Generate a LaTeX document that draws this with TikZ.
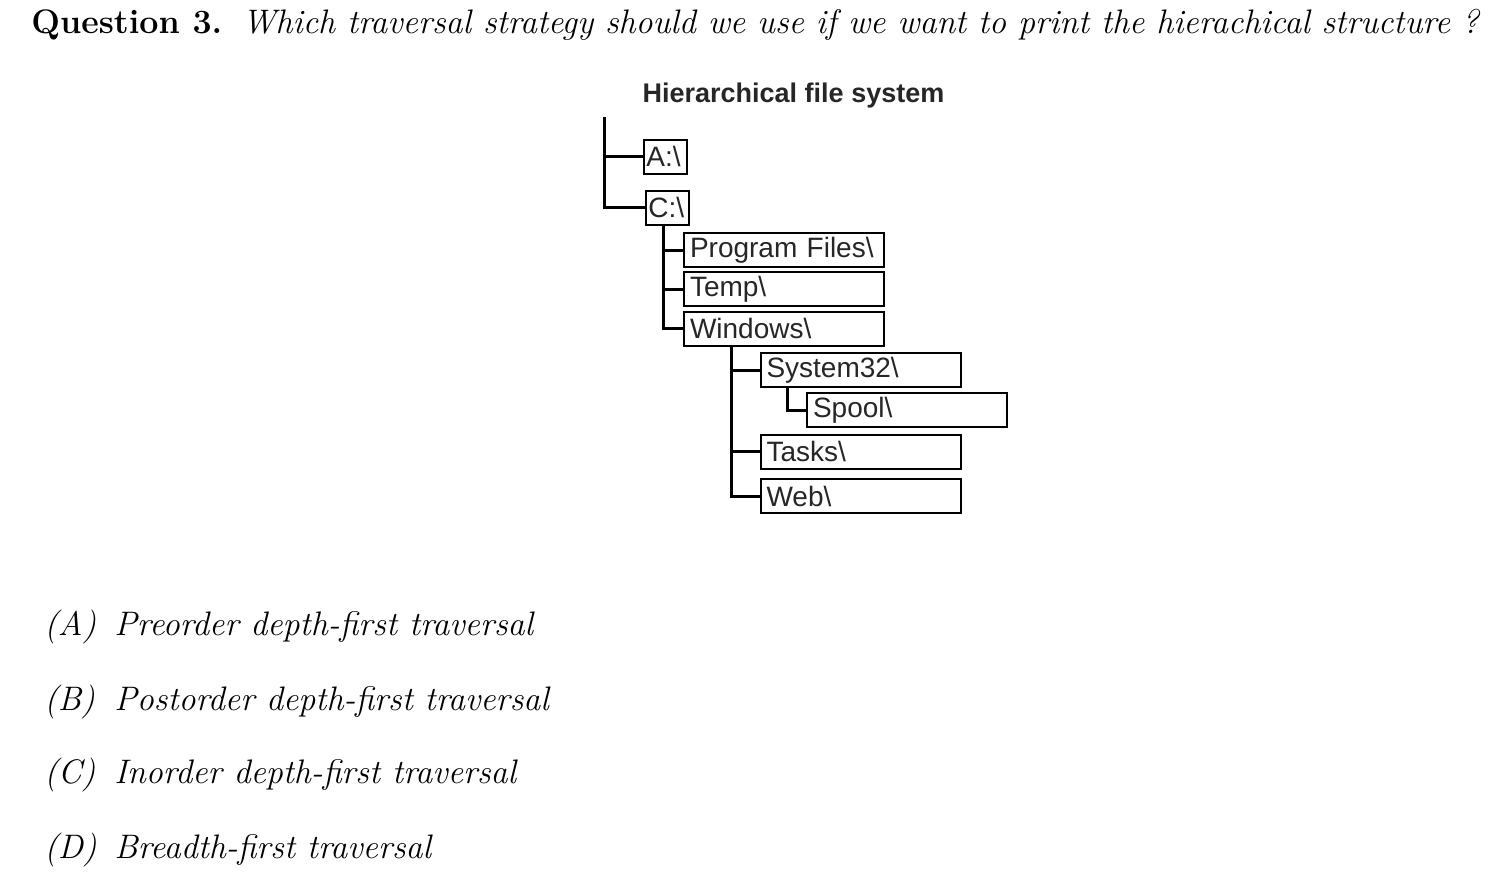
\documentclass[tikz,border=0pt]{standalone}
\usepackage{fontspec}
\newfontfamily\arial{Liberation Sans}
\usetikzlibrary{calc}
\begin{document}
\begin{tikzpicture}[x=0.5pt,y=-0.5pt,
  fbox/.style={draw, line width=1pt, inner ysep=0pt, inner xsep=3pt, minimum height=17pt, text width=94pt, align=left, font=\arial\fontsize{14}{16}\selectfont, text=black!85},
  sbox/.style={fbox, inner xsep=1.2pt, text width=19.1pt},
  branch/.style={line width=1.5pt},
  qtext/.style={inner sep=0pt, anchor=base west, font=\fontsize{17}{20}\selectfont}]
\useasboundingbox (0,0) rectangle (1493,895);
% question
\node[qtext] (qlab) at (31,33) {\bfseries Question 3.};
\node[qtext] (qtxt) at (242,33) {\itshape Which traversal strategy should we use if we want to print the hierachical structure ?};
% title
\node[inner sep=0pt, font=\arial\bfseries\fontsize{13.5}{16}\selectfont, text=black!85] (title) at (793.5,96) {Hierarchical file system};
% boxes
\node[sbox] (A) at (665.5,156.5) {A:\textbackslash};
\node[sbox] (C) at (667.5,207.5) {C:\textbackslash};
\node[fbox] (PF) at (784,250) {Program Files\textbackslash};
\node[fbox] (Tmp) at (784,289) {Temp\textbackslash};
\node[fbox] (Win) at (784,328.5) {Windows\textbackslash};
\node[fbox] (Sys) at (860.5,370) {System32\textbackslash};
\node[fbox] (Spl) at (907,410) {Spool\textbackslash};
\node[fbox] (Tsk) at (860.5,451.5) {Tasks\textbackslash};
\node[fbox] (Web) at (860.5,496) {Web\textbackslash};
% connectors
\coordinate (rt) at (604,117);
\draw[branch] (rt) |- (C.west);
\draw[branch] (rt |- A.west) -- (A.west);
\coordinate (cv) at ($(C.south)+(-4.5,0)$);
\draw[branch] (cv) |- (Win.west);
\draw[branch] (cv |- PF.west) -- (PF.west);
\draw[branch] (cv |- Tmp.west) -- (Tmp.west);
\coordinate (wv) at ($(Win.south west)+(48,0)$);
\draw[branch] (wv) |- (Web.west);
\draw[branch] (wv |- Sys.west) -- (Sys.west);
\draw[branch] (wv |- Tsk.west) -- (Tsk.west);
\coordinate (sv) at ($(Sys.south west)+(28,0)$);
\draw[branch] (sv) |- (Spl.west);
% answers
\node[qtext] (la) at (44,635) {\itshape (A)};
\node[qtext] (ta) at (114,635) {\itshape Preorder depth-first traversal};
\node[qtext] (lb) at (44,710) {\itshape (B)};
\node[qtext] (tb) at (114,710) {\itshape Postorder depth-first traversal};
\node[qtext] (lc) at (44,783) {\itshape (C)};
\node[qtext] (tc) at (114,783) {\itshape Inorder depth-first traversal};
\node[qtext] (ld) at (44,858) {\itshape (D)};
\node[qtext] (td) at (114,858) {\itshape Breadth-first traversal};
\end{tikzpicture}
\end{document}
